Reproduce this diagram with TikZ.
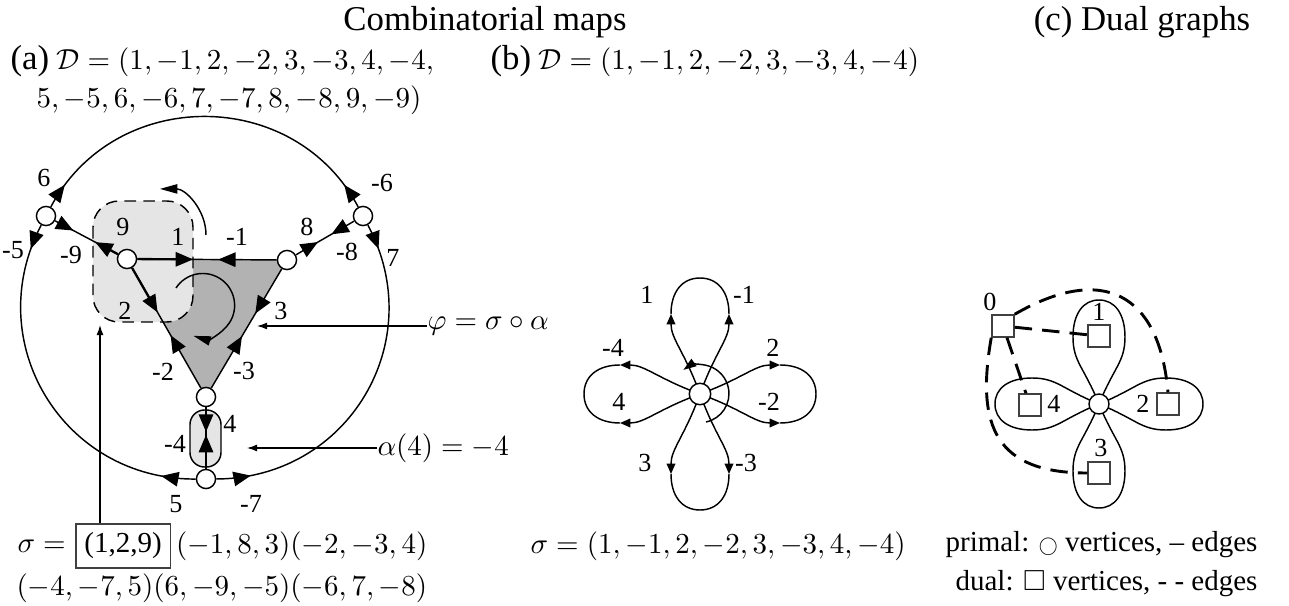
\documentclass[tikz,border=0pt]{standalone}
\usepackage[no-math]{fontspec}
\setmainfont{Liberation Serif}
\usepackage{amsmath,amssymb}
\usepackage{graphicx}
\usepackage{tikz}
\usetikzlibrary{arrows.meta, positioning, calc, decorations.markings, backgrounds}

\begin{document}
\begin{tikzpicture}[
    x=0.345pt, y=0.345pt,
    vtx/.style={draw, circle, fill=white, inner sep=0pt, minimum size=6.6pt, line width=0.5pt},
    dvtx/.style={draw=black!75, fill=white, inner sep=0pt, minimum size=7.6pt, line width=0.5pt},
    lbl/.style={font=\small, inner sep=0pt},
    txt/.style={inner sep=0pt, anchor=west},
    dtip/.tip={Triangle[length=6pt, width=5pt]},
    stip/.tip={Triangle[length=3.6pt, width=3pt]},
    rtip/.tip={Triangle[length=6pt, width=3.2pt]},
    ln/.style={line width=0.5pt},
    darts/.style 2 args={postaction=decorate, decoration={markings,
        mark=at position #1 with {\arrow{dtip}},
        mark=at position #2 with {\arrowreversed{dtip}}}},
    ring/.style={bend left=#1, looseness=1.14},
    rot/.style={-{rtip}, line width=0.5pt},
    ann/.style={-{Latex[length=3.5pt, width=2.4pt]}, line width=0.4pt},
    dual/.style={line width=1pt, dash pattern=on 6pt off 3.5pt},
]
\useasboundingbox (0,0) rectangle (1289,-606);

% headings
\node (ttl) at (485,-22) {\large Combinatorial maps};
\node (ttlc) at (1142,-22) {\large (c) Dual graphs};
\node[txt] (hda) at (10,-61) {{\large (a)} $\mathcal{D}=(1,-1,2,-2,3,-3,4,-4,$};
\node[txt] (hda2) at (36,-100) {$5,-5,6,-6,7,-7,8,-8,9,-9)$};
\node[txt] (hdb) at (490,-61) {{\large (b)} $\mathcal{D}=(1,-1,2,-2,3,-3,4,-4)$};

% (a) combinatorial map with nine edges
\node[vtx] (vA) at (127,-259) {};
\node[vtx] (vB) at (287,-260) {};
\node[vtx] (vC) at (206,-397) {};
\node[vtx] (vD) at (206,-479) {};
\node[vtx] (vE) at (46,-216) {};
\node[vtx] (vF) at (363,-216) {};

\begin{scope}[on background layer]
  \fill[black!30] (vA.center) -- (vB.center) -- (vC.center) -- cycle;
  \draw[ln, dash pattern=on 4pt off 2.5pt, fill=black!10, rounded corners=9pt] (93,-201) rectangle (193,-322);
  \draw[ln, fill=black!10, rounded corners=5pt] (190,-410) rectangle (221,-467);
\end{scope}

\draw[ln, darts={0.4}{0.58}] (vA) -- (vB);
\draw[ln, darts={0.37}{0.56}] (vA) -- (vC);
\draw[ln, darts={0.375}{0.565}] (vB) -- (vC);
\draw[ln, darts={0.4}{0.45}] (vC) -- (vD);
\draw[ln, darts={0.36}{0.71}] (vA) -- (vE);
\draw[ln, darts={0.38}{0.61}] (vB) -- (vF);
\draw[thick] (vA) -- ($(vA)!0.36!(vB)$);
\draw[thick] (vA) -- ($(vA)!0.33!(vC)$);
\draw[thick] (vA) -- ($(vA)!0.3!(vE)$);

% outer ring
\draw[ln, ring=62, darts={9pt}{-9pt}] (vE) to (vF);
\draw[ln, ring=59, darts={9pt}{-12pt}] (vF) to (vD);
\draw[ln, ring=59, darts={12pt}{-9pt}] (vD) to (vE);

\draw[rot] (206,-235) arc[start angle=0, end angle=90, radius=15.9pt];
\draw[rot] (176,-288) arc[start angle=147, end angle=-107, radius=11pt];

\foreach \t/\x/\y/\n in {6/44/178/a6, -5/13/250/am5, -9/71/255/am9, 9/123/227/a9,
    1/178/237/a1, -1/237/237/am1, 8/307/227/a8, -8/347/252/am8, -6/382/183/am6,
    7/393/258/a7, 2/125/311/a2, 3/281/311/a3, -2/163/372/am2, -3/244/371/am3,
    4/230/424/a4, -4/175/444/am4, 5/176/504/a5, -7/251/504/am7}
  \node[lbl] (l\n) at (\x,-\y) {\t};

\node[txt] (phi) at (427,-326) {$\varphi=\sigma\circ\alpha$};
\coordinate (phitip) at (257,-326);
\draw[ann] (phi) -- (phitip);
\node[txt] (alf) at (377,-448) {$\alpha(4)=-4$};
\coordinate (alftip) at (247,-448);
\draw[ann] (alf) -- (alftip);

\node[txt] (sig) at (17,-546) {$\sigma=$};
\node[draw=black!75, line width=0.5pt, inner sep=3pt, right=3pt of sig] (cyc) {(1,2,9)};
\node[txt, right=1.5pt of cyc] (sigr) {$(-1,8,3)(-2,-3,4)$};
\node[txt] (sig2) at (16,-588) {$(-4,-7,5)(6,-9,-5)(-6,7,-8)$};
\coordinate (sqtip) at (100,-325);
\draw[ann] (cyc.north -| sqtip) -- (sqtip);

% (b) bouquet of four loops
\coordinate (cb) at (700,-394);
\foreach \r in {0,90,180,270} {
  \begin{scope}[shift={(cb)}, rotate=\r]
    \draw[ln, -{stip}] (0,0) .. controls (110:45) and (-29,55) .. (-29,80);
    \draw[ln, -{stip}] (0,0) .. controls (70:45) and (29,55) .. (29,80);
    \draw[ln] (-29,80) .. controls (-29,102) and (-18,116) .. (0,116)
              .. controls (18,116) and (29,102) .. (29,80);
  \end{scope}
}
\draw[rot, -{Triangle[length=4.5pt, width=3pt]}] (706,-422) arc[start angle=-78, end angle=125, radius=10pt];
\node[vtx, minimum size=7.4pt] (vb) at (cb) {};

\foreach \t/\x/\y/\n in {1/647/295/b1, -1/744/295/bm1, -4/613/348/bm4, 4/619/402/b4,
    2/773/348/b2, -2/769/402/bm2, 3/645/463/b3, -3/746/463/bm3}
  \node[lbl] (l\n) at (\x,-\y) {\t};

\node[txt] (sigb) at (530,-546) {$\sigma=(1,-1,2,-2,3,-3,4,-4)$};

% (c) primal and dual graph
\coordinate (cc) at (1099,-404);
\foreach \r in {0,90,180,270}
  \draw[ln, shift={(cc)}, rotate=\r] (0,0) .. controls (112:40) and (-26,42) .. (-26,67)
      .. controls (-26,90) and (-16,104) .. (0,104)
      .. controls (16,104) and (26,90) .. (26,67)
      .. controls (26,42) and (68:40) .. (0,0);
\node[vtx, minimum size=6.9pt] (vc) at (cc) {};

\node[dvtx] (d0) at (1003,-326) {};
\node[dvtx] (d1) at (1099,-336) {};
\node[dvtx] (d2) at (1168,-404) {};
\node[dvtx] (d3) at (1099,-473) {};
\node[dvtx] (d4) at (1030,-405) {};
\foreach \t/\x/\y in {0/990/302, 1/1099/312, 2/1143/404, 3/1101/448, 4/1054/404}
  \node[lbl] (lc\t) at (\x,-\y) {\t};

\draw[dual] (d0) -- (d1);
\draw[dual] (d0) -- (d4);
\draw[dual] (d0.north east) to[out=30, in=95, looseness=1.5] (d2.north);
\draw[dual] (d0.south west) to[out=260, in=180, looseness=1.4] (d3.west);

\node[anchor=east, inner sep=0pt] (prim) at (1258,-545) {primal: \scalebox{0.65}{$\bigcirc$} vertices, -- edges};
\node[anchor=east, inner sep=0pt] (dualtxt) at (1258,-584) {dual: $\square$ vertices, - - edges};

\end{tikzpicture}
\end{document}
